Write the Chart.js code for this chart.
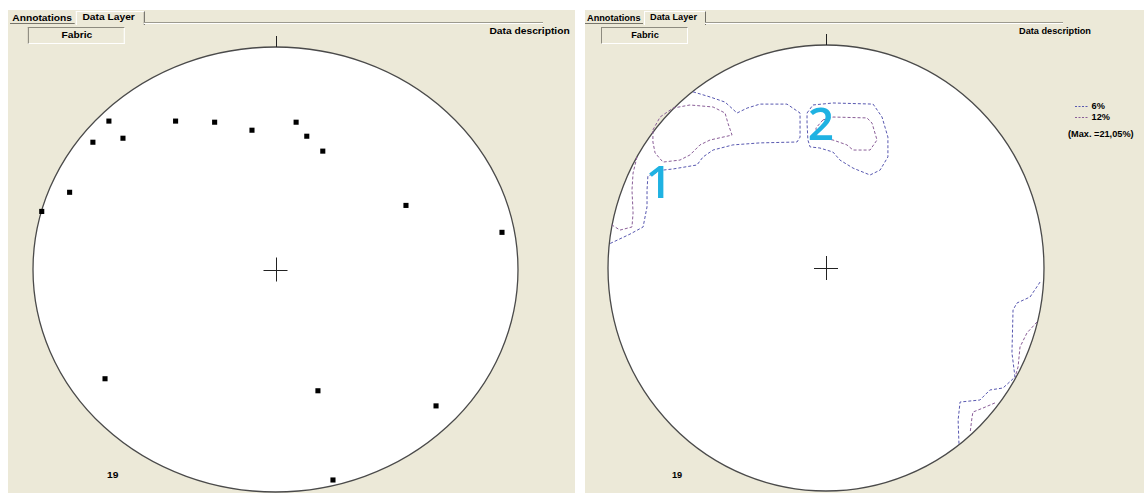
<!DOCTYPE html>
<html>
<head>
<meta charset="utf-8">
<script src="https://cdn.jsdelivr.net/npm/chart.js@4.4.1/dist/chart.umd.min.js"></script>
<style>
  html, body { margin: 0; padding: 0; width: 1144px; height: 493px; overflow: hidden; background: #fff;
    font-family: "Liberation Sans", Arial, sans-serif; }
  .panel { position: absolute; top: 10px; height: 483px; background: #ECE9D8; overflow: hidden; }
  #panelL { left: 8px; width: 567px; }
  #panelR { left: 585px; width: 559px; }
  .chrome { position: absolute; left: 0; top: 0; width: 520px; height: 483px; transform-origin: 0 0; }
  #panelL .chrome { transform: translateX(2px) scaleX(1.115); }
  .t { position: absolute; font-weight: bold; font-size: 9.2px; color: #000; white-space: nowrap; line-height: 12px; }
  .tabA { position: absolute; left: 0; top: 2px; width: 58px; height: 11px; border-bottom: 1px solid #77756a; }
  .tabB { position: absolute; left: 59px; top: 1px; width: 60px; height: 13px; border-left: 1px solid #fff;
    border-top: 1px solid #fff; border-right: 1px solid #6f6e66; }
  .rule { position: absolute; left: 120px; top: 12px; width: 358px; height: 0; border-top: 1px solid #9c9a8e;
    border-bottom: 1px solid #fff; }
  .fabric { position: absolute; left: 16px; top: 17px; width: 85px; height: 15px; border-top: 1px solid #8d8b7f;
    border-left: 1px solid #8d8b7f; border-bottom: 1px solid #fff; border-right: 1px solid #fff; }
  .chartbox { position: absolute; }
  .legend { position: absolute; font-weight: bold; font-size: 9.2px; color: #000; white-space: nowrap; line-height: 11px; }
</style>
</head>
<body>

<div class="panel" id="panelL">
  <div class="chrome">
    <div class="tabA"></div>
    <div class="tabB"></div>
    <div class="rule"></div>
    <div class="t" style="left:2px;top:2px;">Annotations</div>
    <div class="t" style="left:65px;top:1px;">Data Layer</div>
    <div class="fabric"></div>
    <div class="t" style="left:17px;top:19px;width:86px;text-align:center;">Fabric</div>
    <div class="t" style="left:430px;top:15px;">Data description</div>
    <div class="t sampleN" style="left:87px;top:459px;"></div>
  </div>
</div>

<div class="panel" id="panelR">
  <div class="chrome">
    <div class="tabA"></div>
    <div class="tabB"></div>
    <div class="rule"></div>
    <div class="t" style="left:2px;top:2px;">Annotations</div>
    <div class="t" style="left:65px;top:1px;">Data Layer</div>
    <div class="fabric"></div>
    <div class="t" style="left:17px;top:19px;width:86px;text-align:center;">Fabric</div>
    <div class="t" style="left:434px;top:15px;">Data description</div>
    <div class="t sampleN" style="left:87px;top:459px;"></div>
  </div>
</div>

<div class="chartbox" style="left:19px;top:33px;"><canvas id="netPoles" width="513" height="473"></canvas></div>
<div class="chartbox" style="left:594px;top:31px;"><canvas id="netContours" width="464" height="474"></canvas></div>

<div id="legendBox"></div>

<script>
// ---- Poles to fabric planes, projected on a unit-radius net (x = east, y = north)
const poleX = [-0.687, -0.412, -0.251, -0.097, 0.085, 0.129, 0.195, -0.753, -0.629,
               -0.849, -0.964, 0.538, 0.934, -0.703, 0.175, 0.662, 0.237];
const poleY = [0.667, 0.667, 0.662, 0.626, 0.662, 0.599, 0.532, 0.572, 0.590,
               0.347, 0.261, 0.288, 0.167, -0.491, -0.545, -0.613, -0.946];
const sampleCount = 19;

// ---- Density contour levels
const contourLevels = ['6%', '12%'];
const maxDensity = '21,05%';

// 6 % contour lines
const c6North = [[-0.61, 0.79], [-0.532, 0.767], [-0.463, 0.744], [-0.408, 0.695], [-0.362, 0.717],
  [-0.303, 0.735], [-0.179, 0.735], [-0.119, 0.695], [-0.119, 0.587], [-0.133, 0.565], [-0.303, 0.561],
  [-0.427, 0.552], [-0.518, 0.529], [-0.564, 0.498], [-0.592, 0.462], [-0.702, 0.444], [-0.748, 0.439],
  [-0.817, 0.413], [-0.821, 0.350], [-0.821, 0.274], [-0.839, 0.184], [-0.899, 0.152], [-0.99, 0.11]];
const c6Cluster2 = [[-0.087, 0.695], [-0.060, 0.731], [0.032, 0.740], [0.216, 0.735], [0.257, 0.677],
  [0.284, 0.587], [0.284, 0.498], [0.248, 0.439], [0.202, 0.417], [0.124, 0.448], [0.064, 0.484],
  [0.032, 0.520], [-0.028, 0.538], [-0.073, 0.543], [-0.083, 0.574], [-0.087, 0.650], [-0.087, 0.695]];
const c6SouthEast = [[0.982, -0.063], [0.936, -0.130], [0.876, -0.157], [0.858, -0.188], [0.853, -0.381],
  [0.867, -0.489], [0.812, -0.538], [0.752, -0.547], [0.706, -0.592], [0.615, -0.601], [0.606, -0.682],
  [0.61, -0.79]];

// 12 % contour lines
const c12Cluster1 = [[-0.794, 0.619], [-0.761, 0.677], [-0.702, 0.717], [-0.624, 0.731], [-0.518, 0.722],
  [-0.463, 0.695], [-0.450, 0.650], [-0.431, 0.596], [-0.532, 0.574], [-0.578, 0.552], [-0.624, 0.507],
  [-0.670, 0.484], [-0.748, 0.475], [-0.784, 0.516], [-0.794, 0.565], [-0.794, 0.619]];
const c12West = [[-0.867, 0.498], [-0.885, 0.426], [-0.890, 0.350], [-0.885, 0.247], [-0.890, 0.184],
  [-0.945, 0.170], [-0.982, 0.193]];
const c12Cluster2 = [[-0.014, 0.664], [0.032, 0.677], [0.188, 0.673], [0.211, 0.650], [0.234, 0.574],
  [0.202, 0.529], [0.124, 0.529], [0.096, 0.552], [0.032, 0.574], [-0.041, 0.583], [-0.046, 0.628],
  [-0.014, 0.664]];
const c12SouthEastA = [[0.968, -0.242], [0.922, -0.291], [0.890, -0.354], [0.881, -0.444], [0.867, -0.489]];
const c12SouthEastB = [[0.775, -0.605], [0.720, -0.628], [0.674, -0.646], [0.670, -0.668], [0.661, -0.740]];

// Cluster labels (text, x, y of glyph baseline centre)
const clusterLabels = [['1', -0.766, 0.314], ['2', -0.023, 0.574]];

const color6 = '#5858b0';
const color12 = '#8a5e98';
const PAD = 14;

const toPts = arr => arr.map(p => ({ x: p[0], y: p[1] }));

// Primitive net frame: white disc, outline, north tick and centre cross
const netFrame = {
  id: 'netFrame',
  beforeDatasetsDraw(chart) {
    const { ctx, scales: { x, y } } = chart;
    const cx = x.getPixelForValue(0), cy = y.getPixelForValue(0);
    const rx = x.getPixelForValue(1) - cx, ry = cy - y.getPixelForValue(1);
    ctx.save();
    ctx.beginPath();
    ctx.ellipse(cx, cy, rx, ry, 0, 0, Math.PI * 2);
    ctx.fillStyle = '#ffffff';
    ctx.fill();
    ctx.lineWidth = 1.3;
    ctx.strokeStyle = '#4a4a4a';
    ctx.stroke();
    ctx.lineWidth = 1;
    ctx.strokeStyle = '#222222';
    ctx.beginPath();
    ctx.moveTo(Math.round(cx) + 0.5, cy - ry);
    ctx.lineTo(Math.round(cx) + 0.5, cy - ry - 11);
    ctx.moveTo(cx - 12, Math.round(cy) + 0.5);
    ctx.lineTo(cx + 12, Math.round(cy) + 0.5);
    ctx.moveTo(Math.round(cx) + 0.5, cy - 12);
    ctx.lineTo(Math.round(cx) + 0.5, cy + 12);
    ctx.stroke();
    ctx.restore();
  }
};

const clusterText = {
  id: 'clusterText',
  afterDatasetsDraw(chart, args, opts) {
    if (!opts.labels) return;
    const { ctx, scales: { x, y } } = chart;
    ctx.save();
    ctx.fillStyle = '#1fb2e2';
    ctx.font = '600 46px "Open Sans", "Noto Sans", sans-serif';
    ctx.textAlign = 'center';
    ctx.textBaseline = 'alphabetic';
    opts.labels.forEach(([t, lx, ly]) => ctx.fillText(t, x.getPixelForValue(lx), y.getPixelForValue(ly)));
    ctx.restore();
  }
};

const baseOptions = (extra) => ({
  responsive: false,
  animation: false,
  devicePixelRatio: 1,
  events: [],
  layout: { padding: PAD },
  scales: {
    x: { type: 'linear', min: -1, max: 1, display: false },
    y: { type: 'linear', min: -1, max: 1, display: false }
  },
  plugins: Object.assign({ legend: { display: false }, tooltip: { enabled: false } }, extra)
});

// Left net: pole plot
new Chart(document.getElementById('netPoles'), {
  type: 'scatter',
  data: {
    datasets: [{
      label: 'Fabric',
      data: poleX.map((v, i) => ({ x: v, y: poleY[i] })),
      pointStyle: 'rect',
      pointRadius: 3.6,
      borderWidth: 0,
      backgroundColor: '#000000',
      clip: false
    }]
  },
  options: baseOptions({}),
  plugins: [netFrame]
});

// Right net: density contours
const contourSet = (arr, level) => ({
  label: level,
  data: toPts(arr),
  showLine: true,
  pointRadius: 0,
  borderWidth: 1,
  borderDash: [3, 2],
  borderColor: level === contourLevels[0] ? color6 : color12,
  tension: 0,
  fill: false,
  clip: false
});

new Chart(document.getElementById('netContours'), {
  type: 'scatter',
  data: {
    datasets: [
      contourSet(c6North, contourLevels[0]),
      contourSet(c6Cluster2, contourLevels[0]),
      contourSet(c6SouthEast, contourLevels[0]),
      contourSet(c12Cluster1, contourLevels[1]),
      contourSet(c12West, contourLevels[1]),
      contourSet(c12Cluster2, contourLevels[1]),
      contourSet(c12SouthEastA, contourLevels[1]),
      contourSet(c12SouthEastB, contourLevels[1])
    ]
  },
  options: baseOptions({ clusterText: { labels: clusterLabels } }),
  plugins: [netFrame, clusterText]
});

// Sample count and contour key
document.querySelectorAll('.sampleN').forEach(el => { el.textContent = String(sampleCount); });

const legendBox = document.getElementById('legendBox');
const keyRows = [[contourLevels[0], color6, 107], [contourLevels[1], color12, 118]];
keyRows.forEach(([txt, col, yy]) => {
  const row = document.createElement('div');
  row.className = 'legend';
  row.style.left = '1075px';
  row.style.top = (yy - 6) + 'px';
  row.innerHTML = '<svg width="14" height="11" style="vertical-align:top"><line x1="0" y1="5.5" x2="14" y2="5.5" stroke="' +
    col + '" stroke-width="1" stroke-dasharray="2,1.5"/></svg> ' + txt;
  legendBox.appendChild(row);
});
const maxRow = document.createElement('div');
maxRow.className = 'legend';
maxRow.style.left = '1068px';
maxRow.style.top = '129px';
maxRow.textContent = '(Max. =' + maxDensity + ')';
legendBox.appendChild(maxRow);
</script>
</body>
</html>
